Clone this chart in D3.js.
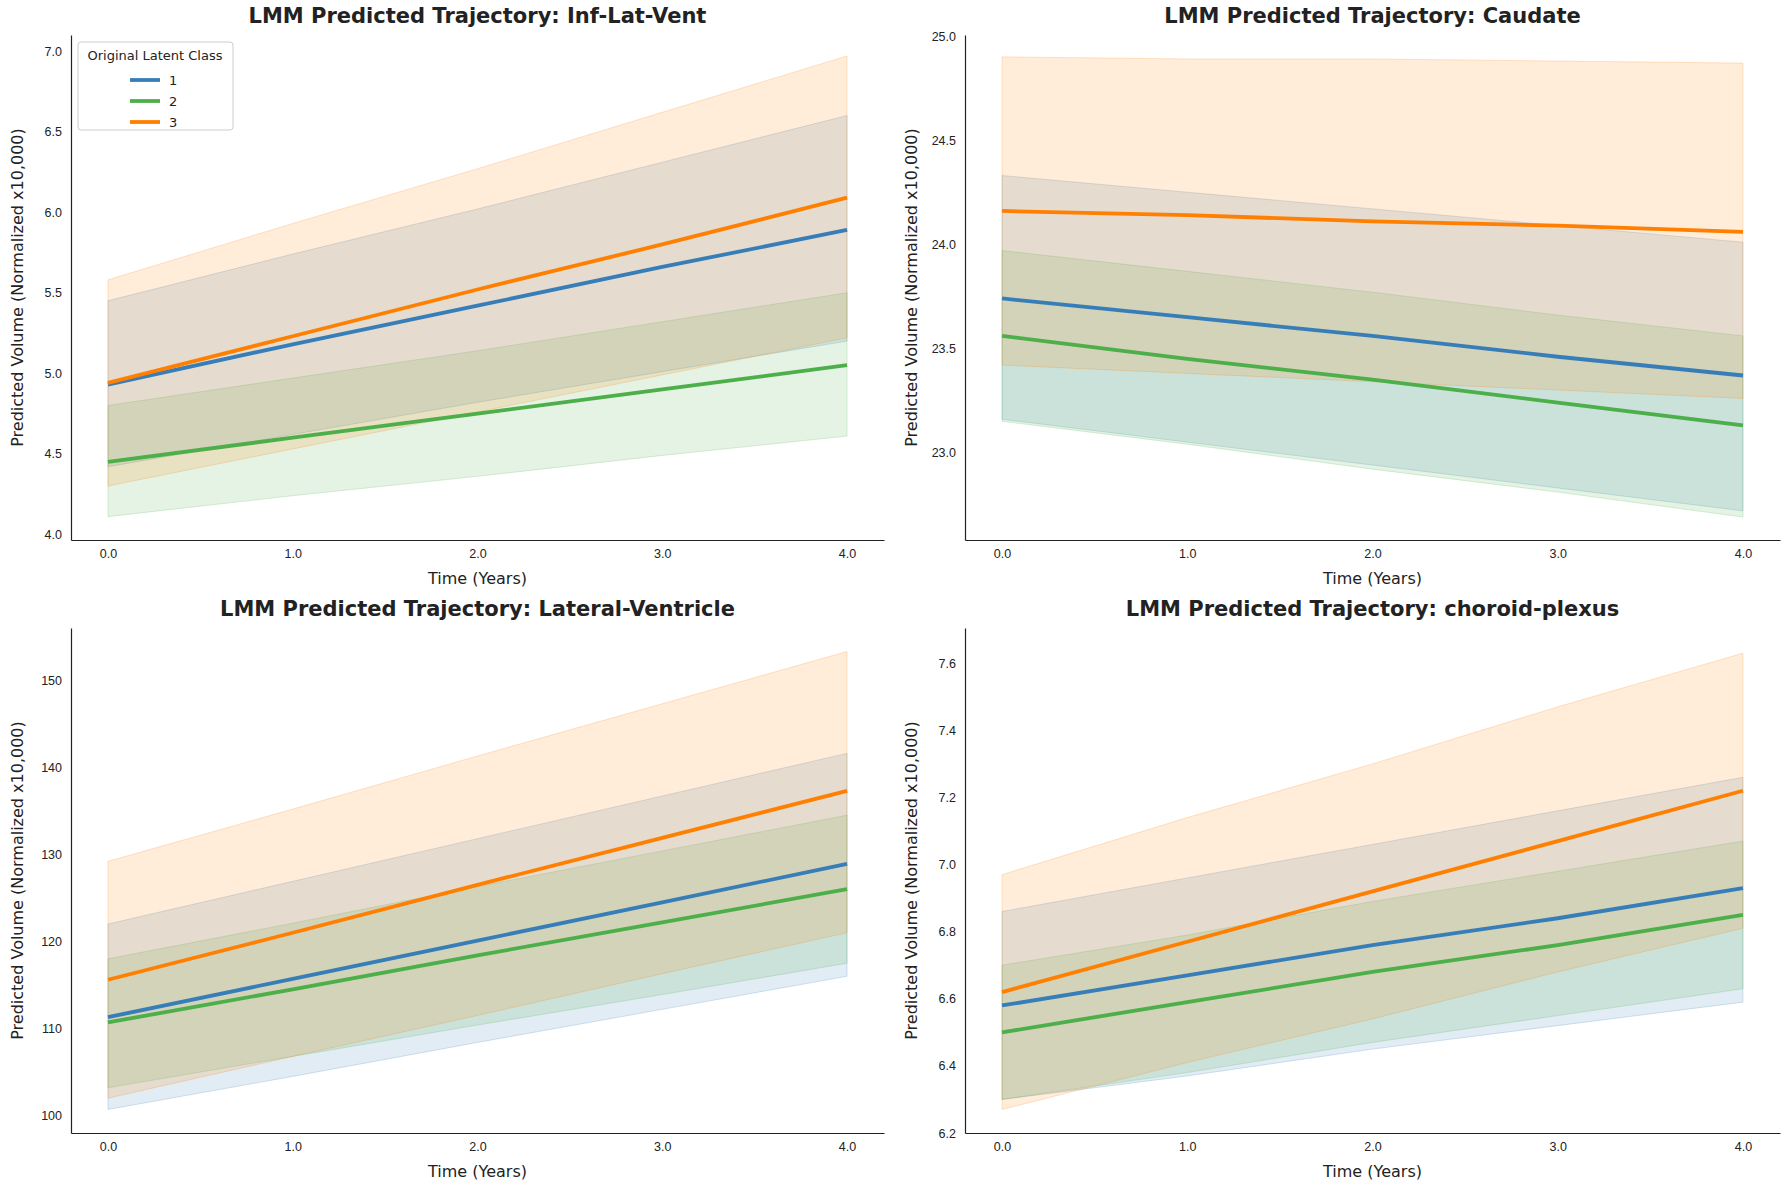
<!DOCTYPE html>
<html>
<head>
<meta charset="UTF-8">
<script src="https://d3js.org/d3.v7.min.js"></script>
<style>
  body { margin: 0; background: white; font-family: "DejaVu Sans", sans-serif; }
  .tick text { font-size: 12.5px; fill: #222; }
  .domain { stroke: #222; stroke-width: 1.2px; }
  .tick line { display: none; }
</style>
</head>
<body>
<svg width="1789" height="1190"></svg>
<script>
// Data: years, and per panel/class mean, lower CI, upper CI
const years = [0, 1, 2, 3, 4];
const classes = ["1", "2", "3"];
const colors = ["#377eb8", "#4daf4a", "#ff7f00"];

const infLatVent = {
  mean:  [[4.93, 5.18, 5.42, 5.66, 5.89], [4.45, 4.60, 4.75, 4.90, 5.05], [4.94, 5.23, 5.52, 5.80, 6.09]],
  lower: [[4.42, 4.62, 4.82, 5.01, 5.20], [4.11, 4.24, 4.36, 4.49, 4.61], [4.30, 4.53, 4.76, 4.99, 5.22]],
  upper: [[5.45, 5.74, 6.02, 6.31, 6.60], [4.80, 4.97, 5.14, 5.32, 5.50], [5.58, 5.93, 6.27, 6.62, 6.97]]
};
const caudate = {
  mean:  [[23.74, 23.65, 23.56, 23.46, 23.37], [23.56, 23.45, 23.35, 23.24, 23.13], [24.16, 24.14, 24.11, 24.09, 24.06]],
  lower: [[23.16, 23.05, 22.94, 22.83, 22.72], [23.15, 23.04, 22.92, 22.81, 22.69], [23.42, 23.38, 23.34, 23.30, 23.26]],
  upper: [[24.33, 24.25, 24.17, 24.09, 24.01], [23.97, 23.87, 23.77, 23.66, 23.56], [24.90, 24.89, 24.89, 24.88, 24.87]]
};
const latVent = {
  mean:  [[111.3, 115.7, 120.1, 124.5, 128.9], [110.7, 114.5, 118.4, 122.2, 126.0], [115.6, 121.0, 126.5, 131.9, 137.3]],
  lower: [[100.7, 104.5, 108.4, 112.2, 116.0], [103.2, 106.8, 110.4, 113.9, 117.5], [102.0, 106.8, 111.5, 116.3, 121.0]],
  upper: [[122.0, 126.9, 131.8, 136.7, 141.6], [118.0, 122.1, 126.3, 130.4, 134.5], [129.2, 135.2, 141.3, 147.3, 153.3]]
};
const choroid = {
  mean:  [[6.58, 6.67, 6.76, 6.84, 6.93], [6.50, 6.59, 6.68, 6.76, 6.85], [6.62, 6.77, 6.92, 7.07, 7.22]],
  lower: [[6.30, 6.37, 6.45, 6.52, 6.59], [6.30, 6.38, 6.47, 6.55, 6.63], [6.27, 6.41, 6.54, 6.68, 6.81]],
  upper: [[6.86, 6.96, 7.06, 7.16, 7.26], [6.70, 6.79, 6.89, 6.98, 7.07], [6.97, 7.14, 7.30, 7.47, 7.63]]
};

const panels = [
  { title: "LMM Predicted Trajectory: Inf-Lat-Vent", d: infLatVent, y: [3.965, 7.1], ticks: d3.range(4, 7.01, 0.5), fmt: ".1f", box: [71, 35, 884, 540], legend: true },
  { title: "LMM Predicted Trajectory: Caudate", d: caudate, y: [22.58, 25.005], ticks: d3.range(23, 25.01, 0.5), fmt: ".1f", box: [965, 35, 1780, 540] },
  { title: "LMM Predicted Trajectory: Lateral-Ventricle", d: latVent, y: [98, 156], ticks: d3.range(100, 151, 10), fmt: "d", box: [71, 628, 884, 1133] },
  { title: "LMM Predicted Trajectory: choroid-plexus", d: choroid, y: [6.2, 7.705], ticks: d3.range(6.2, 7.61, 0.2), fmt: ".1f", box: [965, 628, 1780, 1133] }
];

const svg = d3.select("svg");

panels.forEach(p => {
  const [x0, y0, x1, y1] = p.box;
  const x = d3.scaleLinear().domain([-0.2, 4.2]).range([x0, x1]);
  const y = d3.scaleLinear().domain(p.y).range([y1, y0]);
  const g = svg.append("g");

  classes.forEach((c, i) => {
    const band = years.map((t, k) => ({ t, lo: p.d.lower[i][k], hi: p.d.upper[i][k] }));
    g.append("path")
      .attr("d", d3.area().x(d => x(d.t)).y0(d => y(d.lo)).y1(d => y(d.hi))(band))
      .attr("fill", colors[i]).attr("fill-opacity", 0.15)
      .attr("stroke", colors[i]).attr("stroke-opacity", 0.2);
  });
  classes.forEach((c, i) => {
    g.append("path")
      .attr("d", d3.line().x((d, k) => x(years[k])).y(d => y(d))(p.d.mean[i]))
      .attr("fill", "none").attr("stroke", colors[i]).attr("stroke-width", 3.8);
  });

  g.append("g").attr("transform", `translate(0,${y1})`)
    .call(d3.axisBottom(x).tickValues(years).tickSize(0).tickPadding(9));
  g.append("g").attr("transform", `translate(${x0},0)`)
    .call(d3.axisLeft(y).tickValues(p.ticks).tickFormat(d3.format(p.fmt)).tickSize(0).tickPadding(9));

  g.append("text").attr("x", (x0 + x1) / 2).attr("y", y0 - 12)
    .attr("text-anchor", "middle").attr("font-size", 21).attr("font-weight", "bold").attr("fill", "#222")
    .text(p.title);
  g.append("text").attr("x", (x0 + x1) / 2).attr("y", y1 + 44)
    .attr("text-anchor", "middle").attr("font-size", 16).attr("fill", "#222").text("Time (Years)");
  g.append("text")
    .attr("transform", `translate(${x0 - 48},${(y0 + y1) / 2}) rotate(-90)`)
    .attr("text-anchor", "middle").attr("font-size", 16).attr("fill", "#222")
    .text("Predicted Volume (Normalized x10,000)");

  if (p.legend) {
    const lg = g.append("g").attr("transform", `translate(${x0 + 7},${y0 + 7})`);
    lg.append("rect").attr("width", 155).attr("height", 88).attr("rx", 3)
      .attr("fill", "white").attr("fill-opacity", 0.85).attr("stroke", "#ccc");
    lg.append("text").attr("x", 77).attr("y", 18).attr("text-anchor", "middle")
      .attr("font-size", 13).attr("fill", "#222").text("Original Latent Class");
    classes.forEach((c, i) => {
      const yy = 38 + i * 21;
      lg.append("line").attr("x1", 52).attr("x2", 82).attr("y1", yy).attr("y2", yy)
        .attr("stroke", colors[i]).attr("stroke-width", 3.8);
      lg.append("text").attr("x", 91).attr("y", yy + 4.5).attr("font-size", 13).attr("fill", "#222").text(c);
    });
  }
});
</script>
</body>
</html>
